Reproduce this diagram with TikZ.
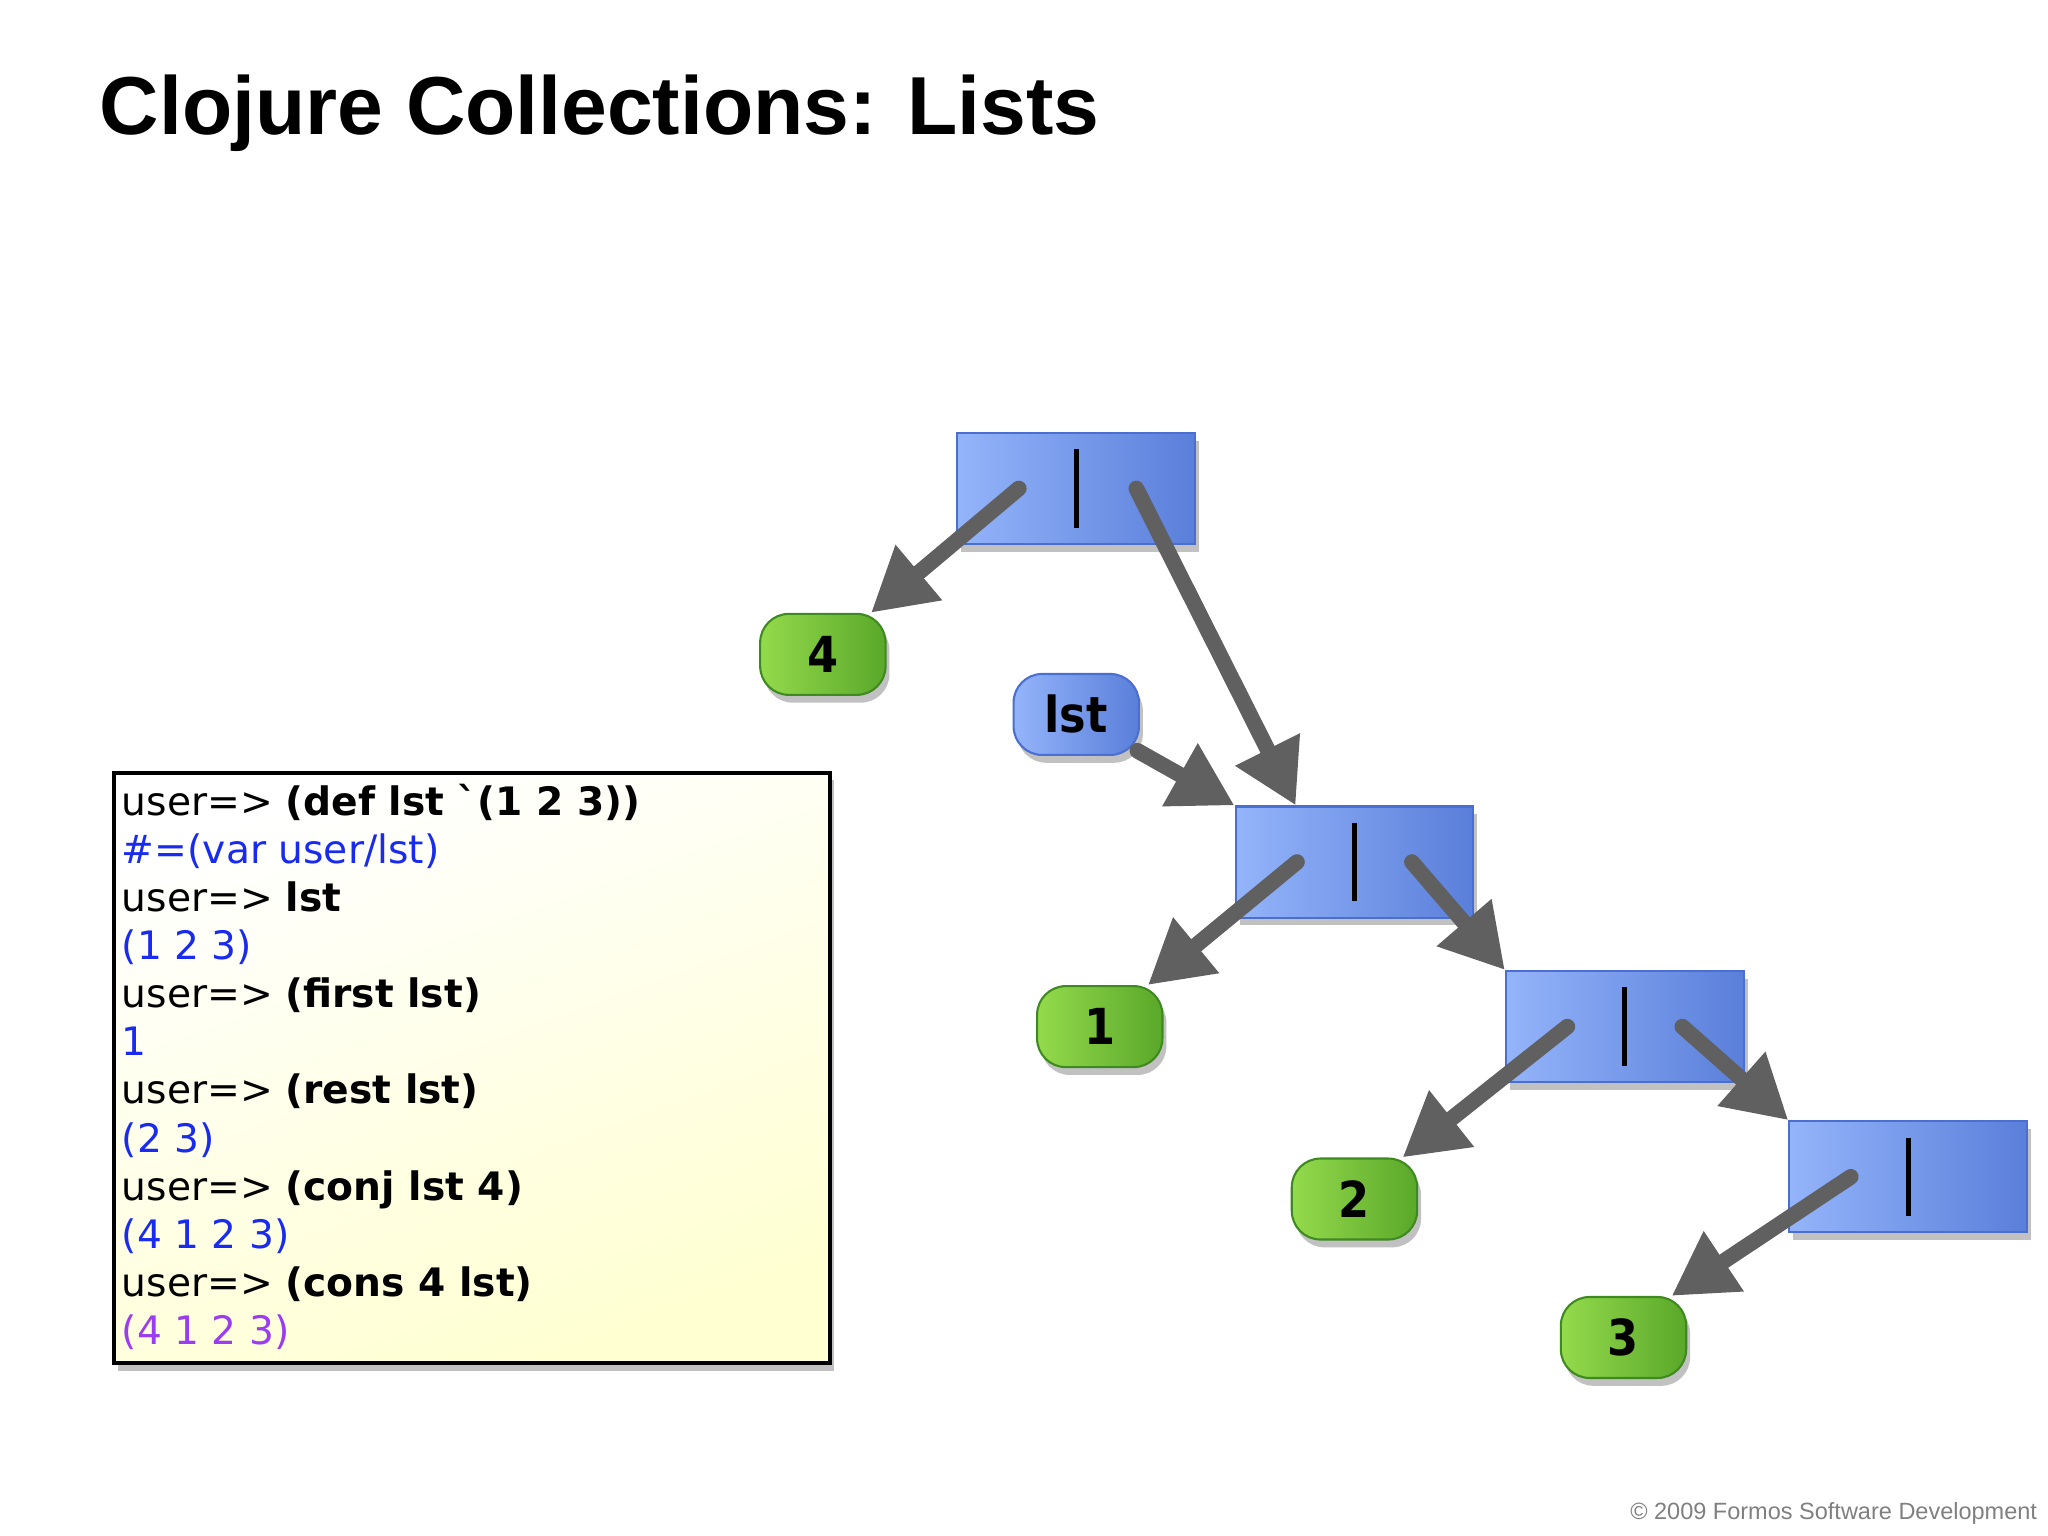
\documentclass[tikz,border=0pt]{standalone}
\usepackage{fontspec}
\setmainfont{Liberation Sans}
\newfontfamily\codefont{DejaVu Sans}
\newfontfamily\handfont{DejaVu Sans Condensed}
\usetikzlibrary{arrows.meta,shadows}
\definecolor{codeblue}{HTML}{1A2BF0}
\definecolor{codepurple}{HTML}{9A3CF0}
\definecolor{arr}{HTML}{606060}
\definecolor{bl}{HTML}{94B4FA}
\definecolor{br}{HTML}{5A7FDA}
\definecolor{bd}{HTML}{4A6FD0}
\definecolor{gl}{HTML}{94DA4C}
\definecolor{gr}{HTML}{5AA82A}
\definecolor{gd}{HTML}{3F8A20}
\tikzset{
  shad/.style={drop shadow={shadow xshift=1.5pt,shadow yshift=-3pt,fill=black!30,opacity=0.8}},
  cell/.style={minimum width=91pt,minimum height=42.5pt,draw=bd,line width=0.8pt,
    left color=bl,right color=br,shad},
  val/.style={minimum width=48pt,minimum height=31pt,rounded corners=11pt,draw=gd,line width=0.8pt,
    left color=gl,right color=gr,shad,font=\handfont\bfseries\fontsize{19}{19}\selectfont},
  ptr/.style={draw=arr,line width=6pt,line cap=round,-{Triangle[length=24pt,width=26pt]}},
}
\begin{document}
\begin{tikzpicture}[x=0.5pt,y=-0.5pt]
\fill[white] (0,0) rectangle (1568,1176);
\useasboundingbox (0,0) rectangle (1568,1176);
\node[anchor=base west,font=\bfseries\fontsize{31.5}{31.5}\selectfont,inner sep=0] (title) at (76,103) {Clojure Collections: Lists};
% cells
\foreach \n/\x/\y in {A/824/374,B/1037/660,C/1244/786,D/1461/901}{
  \node[cell] (\n) at (\x,\y) {};
  \draw[line width=2pt] (\x,\y-30) -- (\x,\y+30);
}
\node[val] (v4) at (630,501) {4};
\node[val] (v1) at (842,786) {1};
\node[val] (v2) at (1037,918) {2};
\node[val] (v3) at (1243,1024) {3};
\node[val,draw=bd,left color=bl,right color=br] (lst) at (824,547) {lst};
% pointers
\draw[ptr] ([xshift=-22pt]A.center) -- ([xshift=-6pt]v4.north east);
\draw[ptr] ([xshift=23pt]A.center) -- (B.north west -| 992,615);
\draw[ptr] (lst.south east) ++(-2,-4) -- (B.north west);
\draw[ptr] ([xshift=-22pt]B.center) -- ([xshift=-6pt]v1.north east);
\draw[ptr] ([xshift=22pt]B.center) -- (C.north west);
\draw[ptr] ([xshift=-22pt]C.center) -- ([xshift=-6pt]v2.north east);
\draw[ptr] ([xshift=22pt]C.center) -- (D.north west);
\draw[ptr] ([xshift=-22pt]D.center) -- ([xshift=-6pt]v3.north east);
% code
\node[draw=black,line width=1.5pt,minimum width=274pt,minimum height=226pt,anchor=north west,
  top color=white,bottom color=yellow!18,shading angle=20,shad] (code) at (86,590) {};
\node[anchor=north west,align=left,inner sep=0,font=\codefont\fontsize{15}{18.4}\selectfont] (txt) at (93,600) {%
user=> \textbf{(def lst `(1 2 3))}\\
\textcolor{codeblue}{\#=(var user/lst)}\\
user=> \textbf{lst}\\
\textcolor{codeblue}{(1 2 3)}\\
user=> \textbf{(first lst)}\\
\textcolor{codeblue}{1}\\
user=> \textbf{(rest lst)}\\
\textcolor{codeblue}{(2 3)}\\
user=> \textbf{(conj lst 4)}\\
\textcolor{codeblue}{(4 1 2 3)}\\
user=> \textbf{(cons 4 lst)}\\
\textcolor{codepurple}{(4 1 2 3)}};
\node[anchor=base east,inner sep=0,text=black!50,font=\fontsize{9}{9}\selectfont] (copy) at (1560,1163) {© 2009 Formos Software Development};
\end{tikzpicture}
\end{document}
